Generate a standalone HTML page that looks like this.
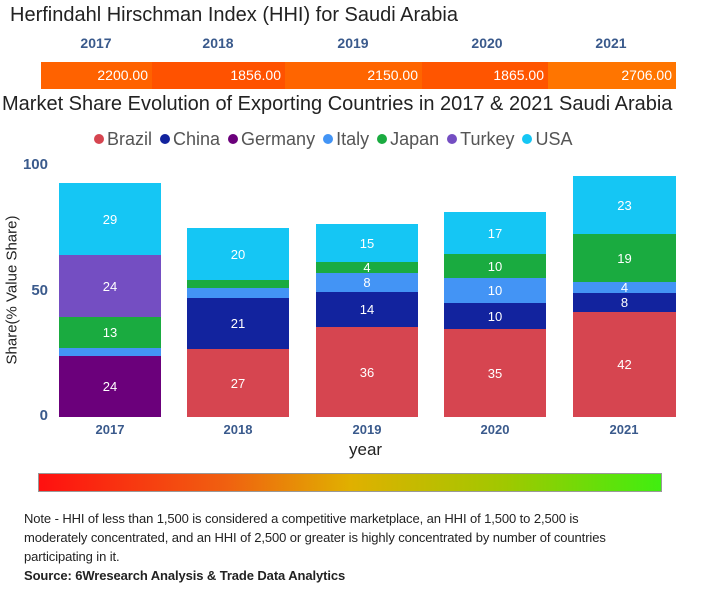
<!DOCTYPE html>
<html><head><meta charset="utf-8"><style>
body{margin:0;width:720px;height:600px;background:#fff;position:relative;overflow:hidden;font-family:"Liberation Sans",sans-serif}
.a{position:absolute}
.yr{position:absolute;top:35px;font-size:14px;font-weight:bold;color:#3a5a8c;transform:translateX(-50%)}
.seg{position:absolute;top:62px;height:27px;color:#fff;font-size:14px;line-height:27px;text-align:right;box-sizing:border-box;padding-right:4px}
.s{position:absolute;color:#fff;font-size:13px;display:flex;align-items:center;justify-content:center}
.xl{position:absolute;top:422px;font-size:13px;font-weight:bold;color:#3a5a8c;transform:translateX(-50%)}
.yt{position:absolute;font-size:15px;font-weight:bold;color:#3a5a8c;right:672px}
.lg{display:inline-block;width:10px;height:10px;border-radius:50%;margin:0 3px 0 8px;vertical-align:1px}
</style></head><body>
<div class="a" style="left:10px;top:4px;font-size:20px;color:#222">Herfindahl Hirschman Index (HHI) for Saudi Arabia</div>
<div class="yr" style="left:96px">2017</div>
<div class="yr" style="left:218px">2018</div>
<div class="yr" style="left:353px">2019</div>
<div class="yr" style="left:487px">2020</div>
<div class="yr" style="left:611px">2021</div>
<div class="seg" style="left:41px;width:111px;background:#ff6200">2200.00</div>
<div class="seg" style="left:152px;width:133px;background:#ff5200">1856.00</div>
<div class="seg" style="left:285px;width:137px;background:#ff6500">2150.00</div>
<div class="seg" style="left:422px;width:126px;background:#ff5500">1865.00</div>
<div class="seg" style="left:548px;width:128px;background:#ff7500">2706.00</div>
<div class="a" style="left:2px;top:93px;font-size:20px;color:#222;white-space:nowrap">Market Share Evolution of Exporting Countries in 2017 &amp; 2021 Saudi Arabia</div>
<div class="a" style="left:86px;top:129px;font-size:18px;color:#555;white-space:nowrap"><span class="lg" style="background:#d64550"></span>Brazil<span class="lg" style="background:#12239e"></span>China<span class="lg" style="background:#6b007b"></span>Germany<span class="lg" style="background:#4394f5"></span>Italy<span class="lg" style="background:#1aab40"></span>Japan<span class="lg" style="background:#744ec2"></span>Turkey<span class="lg" style="background:#15c6f4"></span>USA</div>
<div class="yt" style="top:156px">100</div>
<div class="yt" style="top:282px">50</div>
<div class="yt" style="top:407px">0</div>
<div class="a" style="left:12px;top:290px;font-size:15px;color:#222;transform:translate(-50%,-50%) rotate(-90deg);white-space:nowrap">Share(% Value Share)</div>
<div class="s" style="left:59px;width:102px;top:183px;height:72px;background:#15c6f4">29</div>
<div class="s" style="left:59px;width:102px;top:255px;height:62px;background:#744ec2">24</div>
<div class="s" style="left:59px;width:102px;top:317px;height:31px;background:#1aab40">13</div>
<div class="s" style="left:59px;width:102px;top:348px;height:8px;background:#4394f5"></div>
<div class="s" style="left:59px;width:102px;top:356px;height:61px;background:#6b007b">24</div>
<div class="s" style="left:187px;width:102px;top:228px;height:52px;background:#15c6f4">20</div>
<div class="s" style="left:187px;width:102px;top:280px;height:8px;background:#1aab40"></div>
<div class="s" style="left:187px;width:102px;top:288px;height:10px;background:#4394f5"></div>
<div class="s" style="left:187px;width:102px;top:298px;height:51px;background:#12239e">21</div>
<div class="s" style="left:187px;width:102px;top:349px;height:68px;background:#d64550">27</div>
<div class="s" style="left:316px;width:102px;top:224px;height:38px;background:#15c6f4">15</div>
<div class="s" style="left:316px;width:102px;top:262px;height:11px;background:#1aab40">4</div>
<div class="s" style="left:316px;width:102px;top:273px;height:19px;background:#4394f5">8</div>
<div class="s" style="left:316px;width:102px;top:292px;height:35px;background:#12239e">14</div>
<div class="s" style="left:316px;width:102px;top:327px;height:90px;background:#d64550">36</div>
<div class="s" style="left:444px;width:102px;top:212px;height:42px;background:#15c6f4">17</div>
<div class="s" style="left:444px;width:102px;top:254px;height:24px;background:#1aab40">10</div>
<div class="s" style="left:444px;width:102px;top:278px;height:25px;background:#4394f5">10</div>
<div class="s" style="left:444px;width:102px;top:303px;height:26px;background:#12239e">10</div>
<div class="s" style="left:444px;width:102px;top:329px;height:88px;background:#d64550">35</div>
<div class="s" style="left:573px;width:103px;top:176px;height:58px;background:#15c6f4">23</div>
<div class="s" style="left:573px;width:103px;top:234px;height:48px;background:#1aab40">19</div>
<div class="s" style="left:573px;width:103px;top:282px;height:11px;background:#4394f5">4</div>
<div class="s" style="left:573px;width:103px;top:293px;height:19px;background:#12239e">8</div>
<div class="s" style="left:573px;width:103px;top:312px;height:105px;background:#d64550">42</div>
<div class="xl" style="left:110px">2017</div>
<div class="xl" style="left:238px">2018</div>
<div class="xl" style="left:367px">2019</div>
<div class="xl" style="left:495px">2020</div>
<div class="xl" style="left:624px">2021</div>
<div class="a" style="left:349px;top:440px;font-size:17px;color:#222">year</div>
<div class="a" style="left:38px;top:473px;width:624px;height:19px;background:linear-gradient(to right,#ff1010,#f06010 30%,#e0b000 50%,#a0c800 75%,#40ee10);border:1px solid #999;box-sizing:border-box"></div>
<div class="a" style="left:24px;top:509px;width:612px;font-size:13px;line-height:19px;color:#222;letter-spacing:-0.1px">Note - HHI of less than 1,500 is considered a competitive marketplace, an HHI of 1,500 to 2,500 is moderately concentrated, and an HHI of 2,500 or greater is highly concentrated by number of countries participating in it.<br><b>Source: 6Wresearch Analysis &amp; Trade Data Analytics</b></div>
</body></html>
